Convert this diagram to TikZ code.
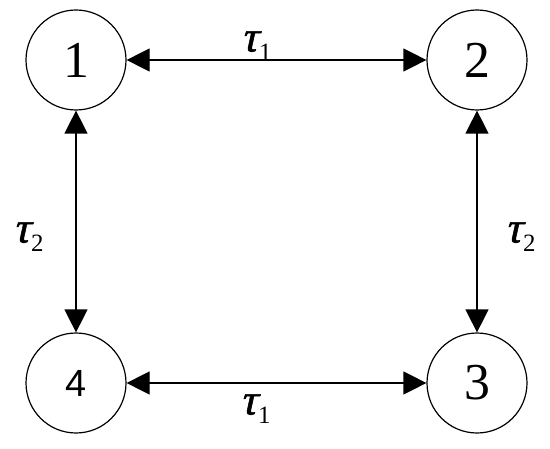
\documentclass[tikz,border=0pt]{standalone}
\usepackage{fontspec}
\setmainfont{Liberation Serif}
\newfontfamily\serifT{Liberation Serif}
\newfontfamily\tauf[FakeSlant=0.22,FakeBold=1.2]{Liberation Serif}
\newfontfamily\digsans{Liberation Sans}
\usetikzlibrary{arrows.meta}
\newcommand{\taulab}[1]{{\tauf τ}\kern1bp\raisebox{-0.45ex}{\serifT\fontsize{25}{25}\selectfont #1}}
\begin{document}
\begin{tikzpicture}[x=1bp,y=-1bp,
  vertex/.style={circle,draw,line width=1.2bp,minimum size=100bp,inner sep=0pt,font=\serifT\fontsize{52}{52}\selectfont},
  link/.style={line width=1.2bp,{Triangle[length=23bp,width=23bp]}-{Triangle[length=23bp,width=23bp]}},
  lab/.style={inner sep=0pt,font=\serifT\fontsize{44}{44}\selectfont}]
\useasboundingbox (0,0) rectangle (550,449);
\node[vertex] (n1) at (76,60) {1};
\node[vertex] (n2) at (477,60) {2};
\node[vertex] (n3) at (477,383) {3};
\node[vertex] (n4) at (76,383) {\fontsize{38}{38}\selectfont\digsans 4};
\draw[link] (n1) -- (n2);
\draw[link] (n4) -- (n3);
\draw[link] (n1) -- (n4);
\draw[link] (n2) -- (n3);
\node[lab] (t1) at (256,46) {\taulab{1}};
\node[lab] (t1b) at (255,409) {\taulab{1}};
\node[lab] (t2) at (28,237) {\taulab{2}};
\node[lab] (t2b) at (520,237) {\taulab{2}};
\end{tikzpicture}
\end{document}
